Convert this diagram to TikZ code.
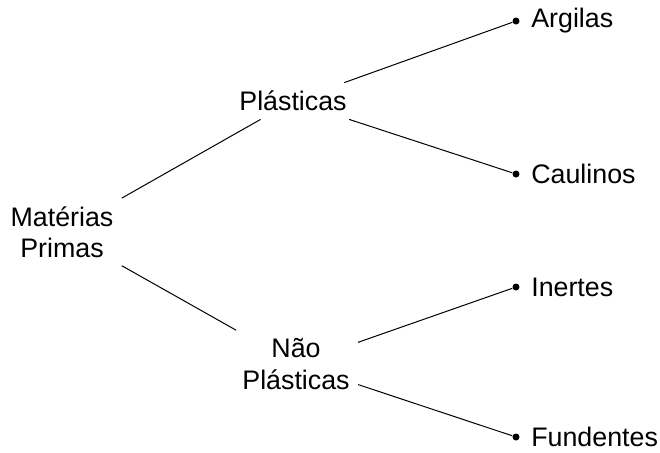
\documentclass[tikz,border=0pt]{standalone}
\usepackage{fontspec}
\setmainfont{Liberation Sans}
\usetikzlibrary{positioning}
\tikzstyle{grupo} = [align=center, inner sep=4pt, font=\fontsize{13.4}{15.6}\selectfont]
\tikzstyle{ponto} = [circle, fill=black, inner sep=0pt, minimum size=3.5pt]
\tikzstyle{folha} = [inner sep=0pt, font=\fontsize{13.4}{15.6}\selectfont]
\tikzstyle{ramo} = [draw=black, line width=0.5pt]

\begin{document}
\begin{tikzpicture}[x=0.5pt, y=-0.5pt]
	\useasboundingbox (0,0) rectangle (660,452);
	% classes
	\node [grupo] (mp) at (62,232) {Matérias\\Primas};
	\node [grupo] (pl) at (293,101) {Plásticas};
	\node [grupo] (npl) at (296,364) {Não\\Plásticas};
	% pontos das folhas
	\node [ponto] (argp) at (516,21) {};
	\node [ponto] (caup) at (516,174) {};
	\node [ponto] (inep) at (516,287) {};
	\node [ponto] (funp) at (516,437) {};
	\node [folha, right=5.5pt of argp] (arg) {Argilas};
	\node [folha, right=5.5pt of caup] (cau) {Caulinos};
	\node [folha, right=5.5pt of inep] (ine) {Inertes};
	\node [folha, right=5.5pt of funp] (fun) {Fundentes};
	% ramos
	\draw [ramo] (mp) -- (pl);
	\draw [ramo] (mp) -- (npl);
	\foreach \a/\b in {pl/argp, pl/caup, npl/inep, npl/funp}
		\draw [ramo] (\a) -- (\b);
\end{tikzpicture}
\end{document}
